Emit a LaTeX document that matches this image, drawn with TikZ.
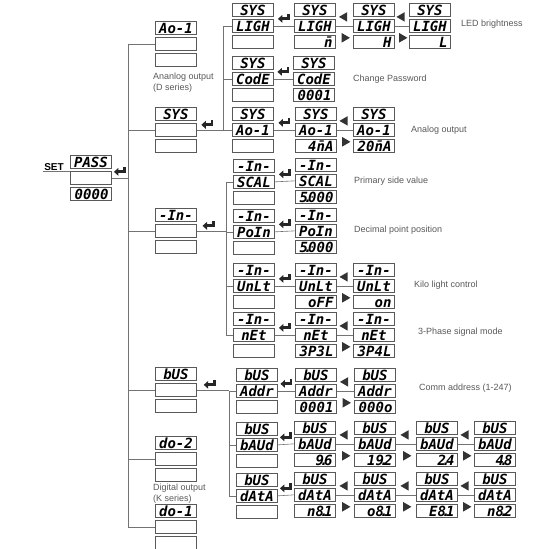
\documentclass[tikz,border=0pt]{standalone}
\usepackage{fontspec}
\setmainfont{Liberation Sans}
\newfontfamily\lcdfont{DejaVu Sans Mono}
\usetikzlibrary{positioning, shapes.geometric, calc}

\newcommand\segdot{\kern-.3em.\kern-.3em}
\newcommand\segm{\ooalign{n\cr\char"AF\cr}}
\newcommand\lcd[6]{%
  \node[seg, anchor=north west] (#1-t) at (#2,#3) {#4};
  \node[seg, below=2pt of #1-t] (#1-m) {#5};
  \node[seg, below=2pt of #1-m, align=right] (#1-b) {#6};
}

\begin{document}
\begin{tikzpicture}[x=1pt, y=-1pt,
  seg/.style={draw=black!65, line width=0.9pt, minimum height=13pt, text width=35pt,
    inner xsep=3pt, inner ysep=0pt, text height=10.5pt, text depth=0pt, align=center,
    font=\fontsize{14}{14}\selectfont\lcdfont\bfseries\itshape},
  link/.style={draw=black!55, line width=0.6pt},
  note/.style={font=\fontsize{9}{11}\selectfont, text=black!65, inner sep=0pt, align=left},
  setkey/.style={font=\fontsize{10}{10}\selectfont\bfseries, inner sep=1pt},
  prevtri/.style={regular polygon, regular polygon sides=3, shape border rotate=90,
    fill=black!80, minimum size=11pt, inner sep=0pt},
  nexttri/.style={prevtri, shape border rotate=-90},
  enter/.pic={
    \fill[black!85] (-6,0) -- (-1.5,-4) -- (-1.5,4) -- cycle;
    \fill[black!85] (-1.5,-1.5) rectangle (6,1.5);
    \fill[black!85] (3.2,1.5) rectangle (6,-5);
  }]
\useasboundingbox (0,0) rectangle (550,549);

\lcd{pass}{70}{155}{PASS}{}{0000}
\node[setkey, anchor=base] (set) at (54,170) {SET};

\lcd{aoone}{155}{21}{Ao-1}{}{}
\lcd{sys}{155}{107}{SYS}{}{}
\lcd{in}{155}{208}{-In-}{}{}
\lcd{bus}{155}{367}{bUS}{}{}
\lcd{dotwo}{155}{436}{do-2}{}{}
\lcd{doone}{155}{504}{do-1}{}{}

\lcd{ligh}{232}{3}{SYS}{LIGH}{}
\lcd{code}{232}{56}{SYS}{CodE}{}
\lcd{ao}{232}{107}{SYS}{Ao-1}{}
\lcd{scal}{233}{159}{-In-}{SCAL}{}
\lcd{poin}{233}{209}{-In-}{PoIn}{}
\lcd{unlt}{233}{263}{-In-}{UnLt}{}
\lcd{net}{233}{312}{-In-}{nEt}{}
\lcd{addr}{236}{368}{bUS}{Addr}{}
\lcd{baud}{236}{422}{bUS}{bAUd}{}
\lcd{data}{236}{473}{bUS}{dAtA}{}

\lcd{ligh1}{294}{3}{SYS}{LIGH}{\segm}
\lcd{code1}{293}{56}{SYS}{CodE}{0001}
\lcd{ao1}{295}{107}{SYS}{Ao-1}{4\segm A}
\lcd{scal1}{295}{158}{-In-}{SCAL}{5\segdot000}
\lcd{poin1}{295}{208}{-In-}{PoIn}{5\segdot000}
\lcd{unlt1}{295}{263}{-In-}{UnLt}{oFF}
\lcd{net1}{295}{312}{-In-}{nEt}{3P3L}
\lcd{addr1}{295}{368}{bUS}{Addr}{0001}
\lcd{baud1}{294}{421}{bUS}{bAUd}{9\segdot6}
\lcd{data1}{294}{472}{bUS}{dAtA}{n8\segdot1}

\lcd{ligh2}{353}{3}{SYS}{LIGH}{H}
\lcd{ao2}{353}{107}{SYS}{Ao-1}{20\segm A}
\lcd{unlt2}{353}{263}{-In-}{UnLt}{on}
\lcd{net2}{353}{312}{-In-}{nEt}{3P4L}
\lcd{addr2}{354}{368}{bUS}{Addr}{000o}
\lcd{baud2}{354}{421}{bUS}{bAUd}{19\segdot2}
\lcd{data2}{354}{472}{bUS}{dAtA}{o8\segdot1}

\lcd{ligh3}{409}{3}{SYS}{LIGH}{L}
\lcd{baud3}{416}{421}{bUS}{bAUd}{2\segdot4}
\lcd{data3}{416}{472}{bUS}{dAtA}{E8\segdot1}

\lcd{baud4}{474}{421}{bUS}{bAUd}{4\segdot8}
\lcd{data4}{474}{472}{bUS}{dAtA}{n8\segdot2}

\node[note, right=10pt of ligh3-m, yshift=2pt] (ledlbl) {LED brightness};
\node[note, right=18pt of code1-m] (codelbl) {Change Password};
\node[note, right=16pt of ao2-m] (aolbl) {Analog output};
\node[note, right=17pt of scal1-m] (scallbl) {Primary side value};
\node[note, right=17pt of poin1-m, yshift=1pt] (poinlbl) {Decimal point position};
\node[note, right=19pt of unlt2-m, yshift=1pt] (unltlbl) {Kilo light control};
\node[note, right=23pt of net2-m, yshift=3pt] (netlbl) {3-Phase signal mode};
\node[note, right=23pt of addr2-m, yshift=3pt] (addrlbl) {Comm address (1-247)};
\node[note, below right=6pt and -2pt of aoone-b.south west] (dlbl) {Ananlog output\\(D series)};
\node[note, below right=2pt and -2pt of dotwo-b.south west] (klbl) {Digital output\\(K series)};

\coordinate (trunk) at (128,0);
\coordinate (sysbus) at (223,0);
\coordinate (inbus) at (226,0);
\coordinate (busbus) at (229,0);

\draw[link] (set.south west) -- (set.south west -| pass-m.west);
\draw[link] (pass-m.east) -- (trunk |- pass-m.east);
\pic at ($(pass-m.east)!.5!(trunk |- pass-m.east)+(0,-6)$) {enter};
\draw[link] (trunk |- aoone-m.west) -- (trunk |- doone-m.west);
\foreach \n in {aoone, sys, in, bus, dotwo, doone}
  \draw[link] (trunk |- \n-m.west) -- (\n-m.west);

\draw[link] (sysbus |- ligh-m.west) -- (sysbus |- ao-m.west);
\draw[link] (inbus |- scal-m.west) -- (inbus |- net-m.west);
\draw[link] (busbus |- addr-m.west) -- (busbus |- data-m.west);
\foreach \p/\b/\kids in {sys/sysbus/{ligh,code,ao}, in/inbus/{scal,poin,unlt,net}, bus/busbus/{addr,baud,data}} {
  \draw[link] (\p-m.east) -- (\b |- \p-m.east);
  \pic at ($(\p-m.east)!.4!(\b |- \p-m.east)+(0,-5)$) {enter};
  \foreach \n in \kids
    \draw[link] (\b |- \n-m.west) -- (\n-m.west);
}

\foreach \a/\b in {ligh/ligh1, code/code1, ao/ao1, scal/scal1, poin/poin1, unlt/unlt1, net/net1, addr/addr1, baud/baud1, data/data1} {
  \draw[link] (\a-m.east) -- (\b-m.west);
  \pic at ($(\a-m.east)!.5!(\b-m.west)+(0,-7)$) {enter};
}

\foreach \a/\b in {ligh1/ligh2, ligh2/ligh3, ao1/ao2, unlt1/unlt2, net1/net2, addr1/addr2, baud1/baud2, baud2/baud3, baud3/baud4, data1/data2, data2/data3, data3/data4} {
  \draw[link] (\a-m.east) -- (\b-m.west);
  \node[prevtri] (prev-\a) at ($(\a-t.south east)!.5!(\b-t.south west)$) {};
  \node[nexttri] (next-\a) at ($(\a-b.north east)!.5!(\b-b.north west)+(0,3)$) {};
}
\end{tikzpicture}
\end{document}
